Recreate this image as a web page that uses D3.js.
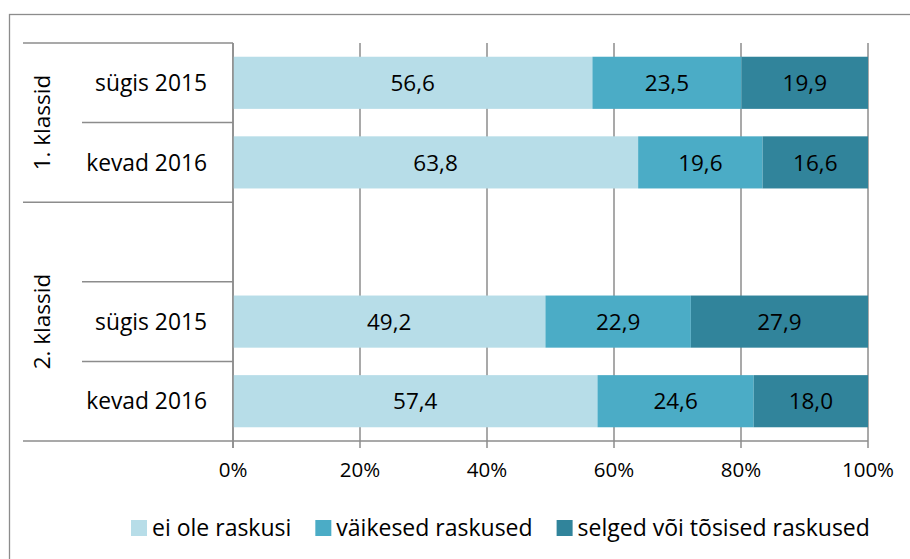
<!DOCTYPE html>
<html>
<head>
<meta charset="utf-8">
<script src="https://cdn.jsdelivr.net/npm/d3@7"></script>
<style>
  body { margin: 0; background: #fff; }
  svg { display: block; font-family: "Open Sans", Lato, sans-serif; }
</style>
</head>
<body>
<div id="chart"></div>
<script>
// rows of the chart, the empty row is the gap before group 2
var rowGroups = ["1. klassid", "1. klassid", "2. klassid", "2. klassid", "2. klassid"];
var rowLabels = ["sügis 2015", "kevad 2016", "", "sügis 2015", "kevad 2016"];
var groups = ["1. klassid", "2. klassid"];

var seriesNames = ["ei ole raskusi", "väikesed raskused", "selged või tõsised raskused"];
var noDifficulty = [56.6, 63.8, null, 49.2, 57.4];
var minorDifficulty = [23.5, 19.6, null, 22.9, 24.6];
var severeDifficulty = [19.9, 16.6, null, 27.9, 18.0];
var colors = ["#b7dde8", "#4bacc6", "#31849b"];

var xTicks = [0, 20, 40, 60, 80, 100];

function init(){
    var w = 910;
    var h = 559;

    var svg = d3.select("#chart")
        .append("svg")
        .attr("width", w)
        .attr("height", h);

    // outer frame (runs off the right/bottom edge like the reference)
    svg.append("rect")
        .attr("x", 9.5)
        .attr("y", 14.5)
        .attr("width", w)
        .attr("height", h)
        .attr("fill", "none")
        .attr("stroke", "#8c8c8c")
        .attr("stroke-width", 1.3);

    var rows = rowLabels.map(function(d, i){
        return {
            key: i,
            group: rowGroups[i],
            label: d,
            v0: noDifficulty[i] || 0,
            v1: minorDifficulty[i] || 0,
            v2: severeDifficulty[i] || 0
        };
    });

    var xScale = d3.scaleLinear()
        .domain([0, 100])
        .range([233, 868]);

    var yScale = d3.scaleBand()
        .domain(d3.range(rows.length))
        .range([43, 441])
        .paddingInner(0.345)
        .paddingOuter(0.1725);

    var step = yScale.step();
    var gap = yScale.paddingInner() * step / 2;
    function rowTop(i){ return yScale(i) - gap; }

    // gridlines + ticks
    svg.selectAll("line.grid")
        .data(xTicks)
        .enter()
        .append("line")
        .attr("class", "grid")
        .attr("x1", function(d){ return xScale(d); })
        .attr("x2", function(d){ return xScale(d); })
        .attr("y1", 43)
        .attr("y2", 448)
        .attr("stroke", "#8c8c8c")
        .attr("stroke-width", 1.5);

    // stacked bars
    var stack = d3.stack().keys(["v0", "v1", "v2"]);
    var stacked = stack(rows.filter(function(r){ return r.label !== ""; }));

    var layers = svg.selectAll("g.layer")
        .data(stacked)
        .enter()
        .append("g")
        .attr("class", "layer")
        .attr("fill", function(d, i){ return colors[i]; });

    layers.selectAll("rect")
        .data(function(d){ return d; })
        .enter()
        .append("rect")
        .attr("x", function(d){ return xScale(d[0]); })
        .attr("y", function(d){ return yScale(d.data.key); })
        .attr("width", function(d){ return xScale(d[1]) - xScale(d[0]); })
        .attr("height", yScale.bandwidth());

    var fmt = d3.format(".1f");
    layers.selectAll("text")
        .data(function(d){ return d; })
        .enter()
        .append("text")
        .attr("x", function(d){ return xScale((d[0] + d[1]) / 2); })
        .attr("y", function(d){ return yScale(d.data.key) + yScale.bandwidth() / 2; })
        .attr("dy", "0.36em")
        .attr("text-anchor", "middle")
        .attr("fill", "#000")
        .style("font-size", "22.5px")
        .text(function(d){ return fmt(d[1] - d[0]).replace(".", ","); });

    // axis lines
    svg.append("line")
        .attr("x1", 23).attr("x2", 868)
        .attr("y1", 441).attr("y2", 441)
        .attr("stroke", "#8c8c8c").attr("stroke-width", 1.5);
    svg.append("line")
        .attr("x1", 233).attr("x2", 233)
        .attr("y1", 43).attr("y2", 448)
        .attr("stroke", "#8c8c8c").attr("stroke-width", 1.5);

    // category separators: long ones at group edges, short ones between rows
    var seps = d3.range(rows.length).map(function(i){
        var isGroupStart = i === 0 || rows[i].group !== rows[i - 1].group;
        return { y: rowTop(i), x1: isGroupStart ? 23 : 82 };
    });
    svg.selectAll("line.sep")
        .data(seps)
        .enter()
        .append("line")
        .attr("class", "sep")
        .attr("x1", function(d){ return d.x1; })
        .attr("x2", 233)
        .attr("y1", function(d){ return d.y; })
        .attr("y2", function(d){ return d.y; })
        .attr("stroke", "#8c8c8c")
        .attr("stroke-width", 1.5);

    // row labels
    svg.selectAll("text.rowlab")
        .data(rows.filter(function(r){ return r.label !== ""; }))
        .enter()
        .append("text")
        .attr("class", "rowlab")
        .attr("x", 207)
        .attr("y", function(d){ return yScale(d.key) + yScale.bandwidth() / 2; })
        .attr("dy", "0.36em")
        .attr("text-anchor", "end")
        .style("font-size", "22.8px")
        .text(function(d){ return d.label; });

    // group labels, rotated
    svg.selectAll("text.grouplab")
        .data(groups)
        .enter()
        .append("text")
        .attr("class", "grouplab")
        .attr("transform", function(g){
            var idx = d3.range(rows.length).filter(function(i){ return rows[i].group === g; });
            var top = rowTop(idx[0]);
            var bottom = rowTop(idx[idx.length - 1]) + step;
            return "translate(42," + ((top + bottom) / 2) + ") rotate(-90)";
        })
        .attr("dy", "0.36em")
        .attr("text-anchor", "middle")
        .style("font-size", "22.5px")
        .text(function(d){ return d; });

    // x tick labels
    svg.selectAll("text.tick")
        .data(xTicks)
        .enter()
        .append("text")
        .attr("class", "tick")
        .attr("x", function(d){ return xScale(d); })
        .attr("y", 470)
        .attr("dy", "0.36em")
        .attr("text-anchor", "middle")
        .style("font-size", "20.5px")
        .text(function(d){ return d + "%"; });

    // legend
    var legend = svg.append("g");
    var lx = 131;
    seriesNames.forEach(function(name, i){
        legend.append("rect")
            .attr("x", lx)
            .attr("y", 520)
            .attr("width", 16)
            .attr("height", 16)
            .attr("fill", colors[i]);
        var t = legend.append("text")
            .attr("x", lx + 21)
            .attr("y", 527.5)
            .attr("dy", "0.36em")
            .style("font-size", "23px")
            .text(name);
        lx = lx + 21 + t.node().getComputedTextLength() + 24;
    });
}
window.onload = init;
</script>
</body>
</html>
